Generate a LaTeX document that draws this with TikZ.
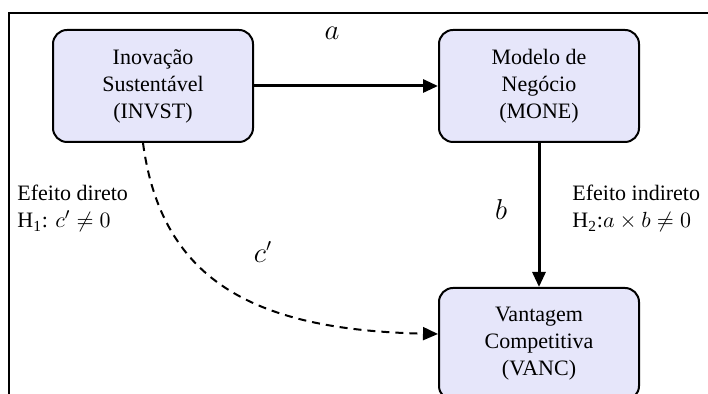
\documentclass[tikz,border=0pt]{standalone}
\usepackage{fontspec}
\setmainfont{Liberation Serif}
\usepackage{amsmath, amssymb}
\usetikzlibrary{positioning, arrows.meta}
\definecolor{boxfill}{RGB}{230,230,250}

\begin{document}
\begin{tikzpicture}[
  x=0.5pt, y=-0.5pt,
  font=\fontsize{11}{13.5}\selectfont,
  node distance=72pt and 92pt,
  box/.style={draw, line width=1pt, fill=boxfill, rounded corners=7pt, align=center, minimum width=100pt, minimum height=56pt},
  arrow/.style={-{Triangle[length=7.5pt, width=6.5pt]}, line width=1.5pt},
  dasharrow/.style={-{Triangle[length=7.5pt, width=6.5pt]}, line width=1pt, dash pattern=on 4pt off 3pt},
  coef/.style={font=\fontsize{13.5}{16}\selectfont},
  hyp/.style={anchor=north west, align=left, inner sep=0pt}
]
\clip (0,0) rectangle (708,394);
\draw[line width=1.25pt] (9,400) -- (9,13) -- (710,13);

\node[box] (invst) at (153,86) {Inovação\\Sustentável\\(INVST)};
\node[box, right=of invst] (mone) {Modelo de\\Negócio\\(MONE)};
\node[box, below=of mone] (vanc) {Vantagem\\Competitiva\\(VANC)};

\draw[arrow] (invst) -- (mone);
\draw[arrow] (mone) -- (vanc);
\draw[dasharrow] ([xshift=-5pt]invst.south) .. controls (162,285) and (260,330) .. ([yshift=5pt]vanc.west);

% path coefficients and hypotheses
\node[coef] (lbla) at (332,33) {$a$};
\node[coef] (lblb) at (501,210) {$b$};
\node[coef] (lblc) at (263,252) {$c'$};
\node[hyp] (direto) at (17,185) {Efeito direto\\H\textsubscript{1}: $c' \neq 0$};
\node[hyp] (indireto) at (572,185) {Efeito indireto\\H\textsubscript{2}:$a \times b \neq 0$};
\end{tikzpicture}
\end{document}
